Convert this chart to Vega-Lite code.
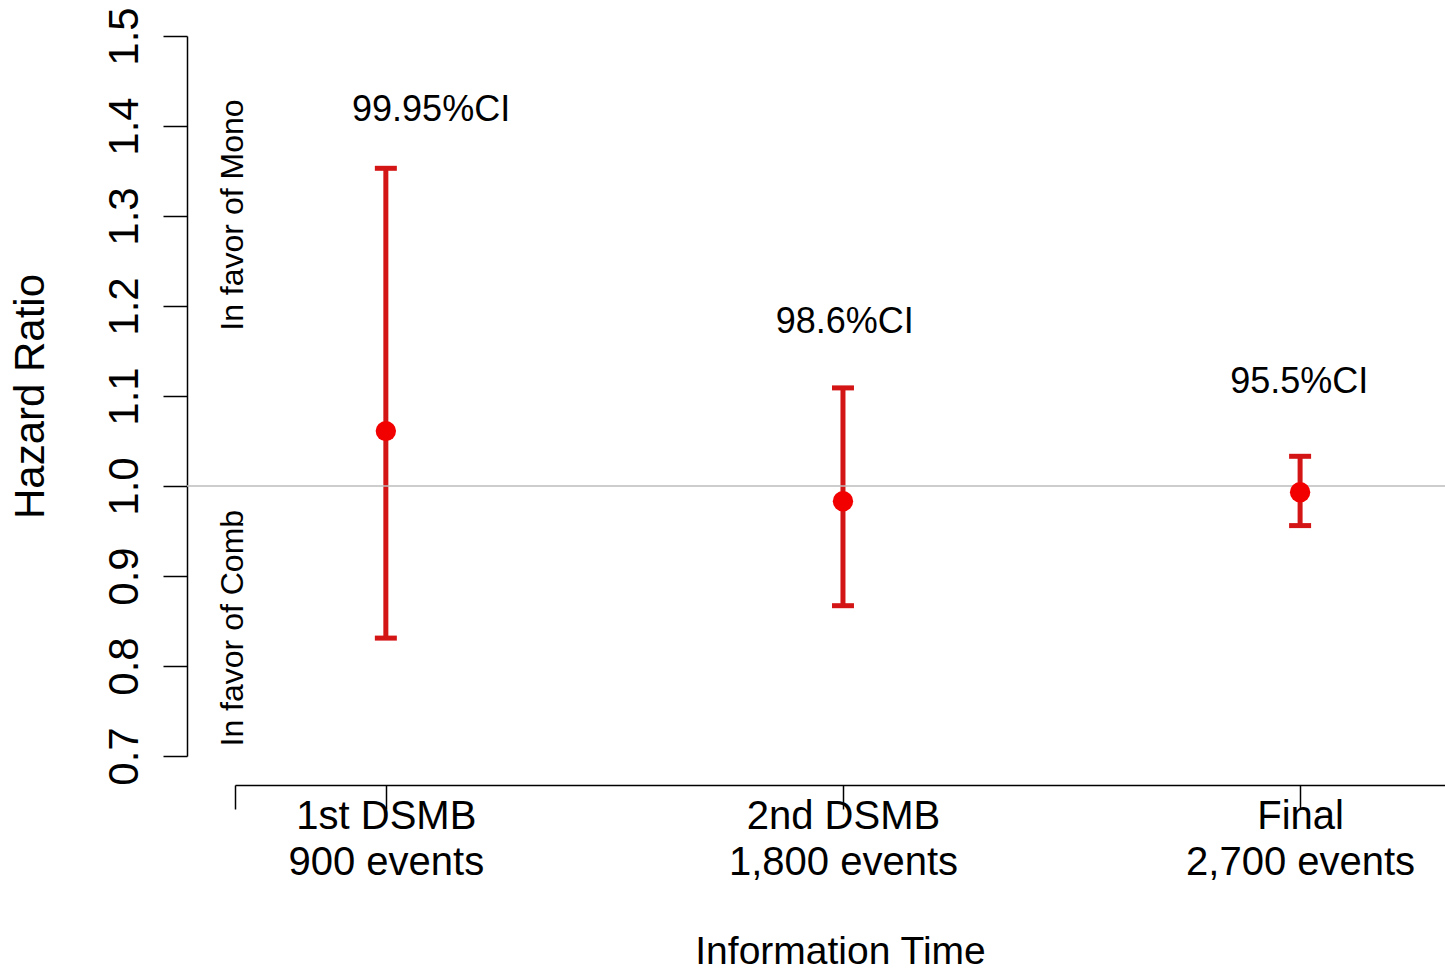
{
  "$schema": "https://vega.github.io/schema/vega-lite/v6.json",
  "width": 1210,
  "height": 720,
  "autosize": "none",
  "padding": {"left": 235, "top": 36, "right": 0, "bottom": 214},
  "background": "white",
  "config": {
    "view": {"stroke": null},
    "font": "Liberation Sans",
    "axis": {"grid": false, "domainColor": "black", "tickColor": "black", "labelColor": "black", "titleColor": "black", "labelFont": "Liberation Sans", "titleFont": "Liberation Sans", "titleFontWeight": "normal", "domainWidth": 1.5, "tickWidth": 1.5, "labelLimit": 0}
  },
  "datasets": {
    "hr": [
      {"t": 1, "stage": "1st DSMB", "events": "900 events", "hr": 1.061, "lo": 0.831, "hi": 1.353},
      {"t": 2, "stage": "2nd DSMB", "events": "1,800 events", "hr": 0.983, "lo": 0.867, "hi": 1.109},
      {"t": 3, "stage": "Final", "events": "2,700 events", "hr": 0.993, "lo": 0.956, "hi": 1.033}
    ],
    "ref": [
      {"x": 0.565, "x2": 3.317, "y": 1.0}
    ],
    "ci": [
      {"x": 1.099, "y": 1.418, "label": "99.95%CI"},
      {"x": 2.004, "y": 1.182, "label": "98.6%CI"},
      {"x": 2.998, "y": 1.116, "label": "95.5%CI"}
    ],
    "side": [
      {"x": 0.666, "y": 1.301, "label": "In favor of Mono"},
      {"x": 0.666, "y": 0.842, "label": "In favor of Comb"}
    ]
  },
  "layer": [
    {
      "data": {"name": "hr"},
      "mark": {"type": "rule", "color": "#d41515", "strokeWidth": 5},
      "encoding": {
        "x": {"field": "t", "type": "quantitative",
          "scale": {"domain": [0.67, 3.317], "nice": false, "zero": false},
          "axis": {
            "title": "Information Time",
            "values": [0.67, 1, 2, 3],
            "offset": 29,
            "tickSize": 24,
            "labelPadding": 19,
            "labelFontSize": 40,
            "labelLineHeight": 46,
            "labelBaseline": "alphabetic",
            "labelAlign": "center",
            "labelOverlap": false,
            "labelFlush": false,
            "labelBound": false,
            "labelLimit": 0,
            "labelExpr": "datum.value == 1 ? ['1st DSMB', '900 events'] : datum.value == 2 ? ['2nd DSMB', '1,800 events'] : datum.value == 3 ? ['Final', '2,700 events'] : ''",
            "titleFontSize": 39,
            "titleY": 178,
            "titleBaseline": "alphabetic"
          }
        },
        "y": {"field": "lo", "type": "quantitative",
          "scale": {"domain": [0.7, 1.5], "nice": false, "zero": false},
          "axis": {
            "title": "Hazard Ratio",
            "values": [0.7, 0.8, 0.9, 1.0, 1.1, 1.2, 1.3, 1.4, 1.5],
            "format": ".1f",
            "offset": 48,
            "tickSize": 24,
            "labelAngle": 270,
            "labelAlign": "center",
            "labelBaseline": "alphabetic",
            "labelPadding": 26,
            "labelFontSize": 42,
            "labelOverlap": false,
            "labelFlush": false,
            "titleFontSize": 42,
            "titleAngle": 270,
            "titleAlign": "center",
            "titleBaseline": "alphabetic",
            "titleX": -144,
            "titleY": 360
          }
        },
        "y2": {"field": "hi"}
      }
    },
    {
      "data": {"name": "ref"},
      "mark": {"type": "rule", "color": "#bdbdbd", "strokeWidth": 1.5},
      "encoding": {
        "x": {"field": "x", "type": "quantitative"},
        "x2": {"field": "x2"},
        "y": {"field": "y", "type": "quantitative"}
      }
    },
    {
      "data": {"name": "hr"},
      "mark": {"type": "tick", "orient": "horizontal", "color": "#d41515", "size": 22, "thickness": 5, "opacity": 1},
      "encoding": {
        "x": {"field": "t", "type": "quantitative"},
        "y": {"field": "lo", "type": "quantitative"}
      }
    },
    {
      "data": {"name": "hr"},
      "mark": {"type": "tick", "orient": "horizontal", "color": "#d41515", "size": 22, "thickness": 5, "opacity": 1},
      "encoding": {
        "x": {"field": "t", "type": "quantitative"},
        "y": {"field": "hi", "type": "quantitative"}
      }
    },
    {
      "data": {"name": "hr"},
      "mark": {"type": "point", "shape": "circle", "filled": true, "color": "#f20000", "size": 415, "opacity": 1},
      "encoding": {
        "x": {"field": "t", "type": "quantitative"},
        "y": {"field": "hr", "type": "quantitative"}
      }
    },
    {
      "data": {"name": "ci"},
      "mark": {"type": "text", "fontSize": 36, "color": "black", "align": "center", "baseline": "middle"},
      "encoding": {
        "x": {"field": "x", "type": "quantitative"},
        "y": {"field": "y", "type": "quantitative"},
        "text": {"field": "label"}
      }
    },
    {
      "data": {"name": "side"},
      "mark": {"type": "text", "fontSize": 32, "color": "black", "align": "center", "baseline": "middle", "angle": 270},
      "encoding": {
        "x": {"field": "x", "type": "quantitative"},
        "y": {"field": "y", "type": "quantitative"},
        "text": {"field": "label"}
      }
    }
  ]
}
